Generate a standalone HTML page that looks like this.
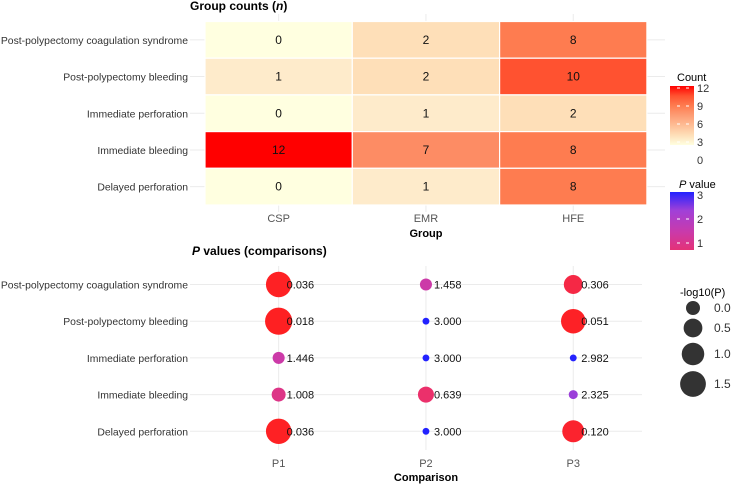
<!DOCTYPE html>
<html><head><meta charset="utf-8"><style>
body{margin:0;background:#fff;font-family:"Liberation Sans","DejaVu Sans",sans-serif;}
svg text{font-family:"Liberation Sans","DejaVu Sans",sans-serif;}
</style></head><body>
<svg id="c" width="732" height="486" viewBox="0 0 732 486" xmlns="http://www.w3.org/2000/svg"></svg>
<script>
const rows = ["Post-polypectomy coagulation syndrome","Post-polypectomy bleeding","Immediate perforation","Immediate bleeding","Delayed perforation"];
const groups = ["CSP","EMR","HFE"];
const countCSP = [0,1,0,12,0];
const countEMR = [2,2,1,7,1];
const countHFE = [8,10,2,8,8];
const comps = ["P1","P2","P3"];
const pP1 = [0.036,0.018,1.446,1.008,0.036];
const pP2 = [1.458,3.000,3.000,0.639,3.000];
const pP3 = [0.306,0.051,2.982,2.325,0.120];
const countTicks = [12,9,6,3,0];
const pTicks = [3,2,1];
const sizeTicks = ["0.0","0.5","1.0","1.5"];

const svg=document.getElementById('c');
const NS='http://www.w3.org/2000/svg';
function mk(tag,attrs,parent){const e=document.createElementNS(NS,tag);for(const k in attrs)e.setAttribute(k,attrs[k]);(parent||svg).appendChild(e);return e;}
function txt(s,x,y,o,parent){const e=mk('text',Object.assign({x:x,y:y,'font-size':11,fill:'#333'},o||{}),parent);e.textContent=s;return e;}
function hex(h){return [1,3,5].map(i=>parseInt(h.substr(i,2),16));}
function interp(stops,v){for(let i=1;i<stops.length;i++){if(v<=stops[i][0]||i==stops.length-1){const a=stops[i-1],b=stops[i];let t=(v-a[0])/(b[0]-a[0]);t=Math.max(0,Math.min(1,t));const A=hex(a[1]),B=hex(b[1]);return 'rgb('+A.map((x,j)=>Math.round(x+(B[j]-x)*t)).join(',')+')';}}}
const cStops=[[0,'#FFFFE0'],[1,'#FEEBCB'],[2,'#FEDFB8'],[7,'#FD8C64'],[8,'#FE7C50'],[10,'#FF5230'],[12,'#FF0000']];
const pStops=[[0,'#FF2020'],[0.6,'#EC3068'],[1.45,'#CC3AA8'],[2.3,'#A040D8'],[3,'#2222FF']];

const hx0=205, cw=147.3, hy0=21.5, rh=36.7;
const hxC=i=>hx0+cw*(i+0.5), hyC=i=>hy0+rh*(i+0.5);
const tTitle=txt('Group counts (',190,10,{'font-weight':'bold','font-size':12,fill:'#000'});

const ti=mk('tspan',{'font-style':'italic'},tTitle);ti.textContent='n';
const ti2=mk('tspan',{},tTitle);ti2.textContent=')';
const hg=mk('g',{});
rows.forEach((r,i)=>{
  mk('line',{x1:190,x2:665,y1:hyC(i),y2:hyC(i),stroke:'#ebebeb','stroke-width':1},hg);
});
groups.forEach((g,j)=>mk('line',{x1:hxC(j),x2:hxC(j),y1:14,y2:212,stroke:'#ebebeb'},hg));
const cols=[countCSP,countEMR,countHFE];
rows.forEach((r,i)=>{
  const l=txt(r,188,hyC(i)+4,{'text-anchor':'end','font-size':10.4});
  
  cols.forEach((arr,j)=>{
    const rc=mk('rect',{x:hx0+cw*j,y:hy0+rh*i,width:cw,height:rh,fill:interp(cStops,arr[i]),stroke:'#fff','stroke-width':1.2},hg);
    
    const v=txt(String(arr[i]),hxC(j),hyC(i)+4,{'text-anchor':'middle','font-size':12,fill:'#111'},hg);
    
  });
});
groups.forEach((g,j)=>{const l=txt(g,hxC(j),222,{'text-anchor':'middle',fill:'#555'});});
const gx=txt('Group',426,237,{'text-anchor':'middle','font-weight':'bold',fill:'#000'});

const defs=mk('defs',{});
const lg1=mk('linearGradient',{id:'gc',x1:0,y1:1,x2:0,y2:0},defs);
[0,2,4,6,8,10,12].forEach(v=>mk('stop',{offset:(v/12),'stop-color':interp(cStops,v)},lg1));
const lg2=mk('linearGradient',{id:'gp',x1:0,y1:1,x2:0,y2:0},defs);
[0.8,1.5,2.3,3].forEach(v=>mk('stop',{offset:((v-0.8)/2.2),'stop-color':interp(pStops,v)},lg2));
const ct=txt('Count',677,81,{fill:'#000'});
const cb=mk('rect',{x:670,y:86,width:24,height:59,fill:'url(#gc)'});
const cy=v=>88+(12-v)/12*72;
countTicks.forEach(v=>{const l=txt(String(v),697,cy(v)+4,{});
  if(v>0){mk('line',{x1:677,x2:680,y1:cy(v),y2:cy(v),stroke:'#fff'});mk('line',{x1:686,x2:689,y1:cy(v),y2:cy(v),stroke:'#fff'});}});
const pt=txt('',679,188,{fill:'#000'});
const pi=mk('tspan',{'font-style':'italic'},pt);pi.textContent='P';const pi2=mk('tspan',{},pt);pi2.textContent=' value';
const pb=mk('rect',{x:670,y:192,width:24,height:58,fill:'url(#gp)'});
const py=v=>195+(3-v)*24;
pTicks.forEach(v=>{const l=txt(String(v),697,py(v)+4,{});
  if(v<3){mk('line',{x1:677,x2:680,y1:py(v),y2:py(v),stroke:'#fff'});mk('line',{x1:686,x2:689,y1:py(v),y2:py(v),stroke:'#fff'});}});

const by0=284.5, brh=36.7;
const byC=i=>by0+brh*i;
const bt=txt('',192,255,{'font-weight':'bold','font-size':12,fill:'#000'});
const b1=mk('tspan',{'font-style':'italic'},bt);b1.textContent='P';const b2=mk('tspan',{},bt);b2.textContent=' values (comparisons)';
const bg=mk('g',{});
comps.forEach((c,j)=>mk('line',{x1:hxC(j),x2:hxC(j),y1:266,y2:450,stroke:'#ebebeb'},bg));
rows.forEach((r,i)=>{mk('line',{x1:190,x2:642,y1:byC(i),y2:byC(i),stroke:'#ebebeb'},bg);
  const l=txt(r,188,byC(i)+4,{'text-anchor':'end','font-size':10.4});});
const rad=p=>Math.sqrt(Math.max(5,49+78*(-Math.log10(p))));
[pP1,pP2,pP3].forEach((arr,j)=>arr.forEach((p,i)=>{
  const c=mk('circle',{cx:hxC(j),cy:byC(i),r:rad(p),fill:interp(pStops,p)},bg);
  
  const l=txt(p.toFixed(3),hxC(j)+8,byC(i)+4,{fill:'#111'},bg);
  
}));
comps.forEach((c,j)=>{const l=txt(c,hxC(j),467,{'text-anchor':'middle',fill:'#555'});});
const cx2=txt('Comparison',426,481,{'text-anchor':'middle','font-weight':'bold',fill:'#000'});
const st=txt('-log10(P)',680,296,{fill:'#000'});
const sy=[308,328,354,384];
sizeTicks.forEach((s,k)=>{const v=parseFloat(s);
  const c=mk('circle',{cx:693,cy:sy[k],r:Math.sqrt(49+78*v),fill:'#333'});
  const l=txt(s,714,sy[k]+4,{'font-size':12});});
</script>
</body></html>
